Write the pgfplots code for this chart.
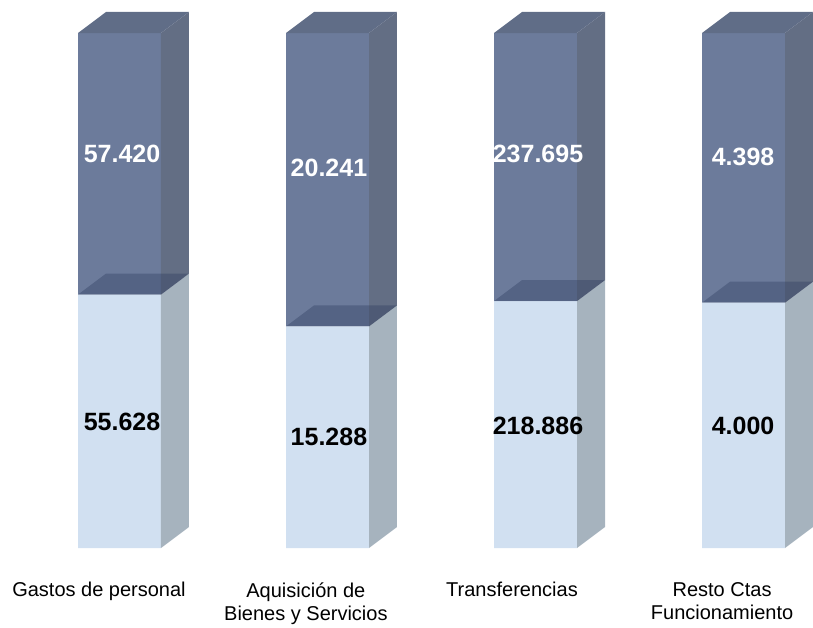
\documentclass[border=0pt]{standalone}
\usepackage{fontspec}
\setmainfont{Liberation Sans}
\usepackage{pgfplots}
\pgfplotsset{compat=1.18}
\usepackage{pgfplotstable}

\definecolor{topfront}{RGB}{108,123,155}
\definecolor{topside}{RGB}{99,110,132}
\definecolor{toptop}{RGB}{96,109,135}
\definecolor{botfront}{RGB}{209,224,241}
\definecolor{botside}{RGB}{166,179,190}
\definecolor{boundary}{RGB}{40,55,90}

% shares (%) of each category: bottom and top segments
\pgfplotstableread{
x bot top
0 49.21 50.79
1 43.03 56.97
2 47.94 52.06
3 47.63 52.37
}\shares

\pgfplotsset{base/.style={scale only axis, width=406.5pt, height=313.5pt,
  xmin=-0.5745, xmax=3.3341, ymin=-15.34, ymax=106.41, hide axis, clip=false}}

\begin{document}
\begin{tikzpicture}
\begin{axis}[base, ybar stacked, bar width=0.399]
\addplot[fill=botfront, draw=none] table[x=x,y=bot]{\shares};
\addplot[fill=topfront, draw=none] table[x=x,y=top]{\shares};
\path (rel axis cs:0,0) rectangle (rel axis cs:1,1);
\end{axis}
\begin{axis}[base]
% bar 0
\addplot[fill=botside, draw=none] coordinates {(0.1995,0) (0.3341,4.078) (0.3341,53.29) (0.1995,49.21)};
\addplot[fill=topside, draw=none] coordinates {(0.1995,49.21) (0.3341,53.29) (0.3341,104.08) (0.1995,100)};
\addplot[fill=toptop, draw=none] coordinates {(-0.1995,100) (0.1995,100) (0.3341,104.08) (-0.0649,104.08)};
\addplot[fill=boundary, fill opacity=0.35, draw=none] coordinates {(-0.1995,49.21) (0.1995,49.21) (0.3341,53.29) (-0.0649,53.29)};
% bar 1
\addplot[fill=botside, draw=none] coordinates {(1.1995,0) (1.3341,4.078) (1.3341,47.11) (1.1995,43.03)};
\addplot[fill=topside, draw=none] coordinates {(1.1995,43.03) (1.3341,47.11) (1.3341,104.08) (1.1995,100)};
\addplot[fill=toptop, draw=none] coordinates {(0.8005,100) (1.1995,100) (1.3341,104.08) (0.9351,104.08)};
\addplot[fill=boundary, fill opacity=0.35, draw=none] coordinates {(0.8005,43.03) (1.1995,43.03) (1.3341,47.11) (0.9351,47.11)};
% bar 2
\addplot[fill=botside, draw=none] coordinates {(2.1995,0) (2.3341,4.078) (2.3341,52.02) (2.1995,47.94)};
\addplot[fill=topside, draw=none] coordinates {(2.1995,47.94) (2.3341,52.02) (2.3341,104.08) (2.1995,100)};
\addplot[fill=toptop, draw=none] coordinates {(1.8005,100) (2.1995,100) (2.3341,104.08) (1.9351,104.08)};
\addplot[fill=boundary, fill opacity=0.35, draw=none] coordinates {(1.8005,47.94) (2.1995,47.94) (2.3341,52.02) (1.9351,52.02)};
% bar 3
\addplot[fill=botside, draw=none] coordinates {(3.1995,0) (3.3341,4.078) (3.3341,51.71) (3.1995,47.63)};
\addplot[fill=topside, draw=none] coordinates {(3.1995,47.63) (3.3341,51.71) (3.3341,104.08) (3.1995,100)};
\addplot[fill=toptop, draw=none] coordinates {(2.8005,100) (3.1995,100) (3.3341,104.08) (2.9351,104.08)};
\addplot[fill=boundary, fill opacity=0.35, draw=none] coordinates {(2.8005,47.63) (3.1995,47.63) (3.3341,51.71) (2.9351,51.71)};

% value labels
\tikzset{val/.style={font=\bfseries\fontsize{12.5}{14}\selectfont, inner sep=0pt}}
\node[val, text=white] at (axis cs:0.012,76.5) {57.420};
\node[val, text=white] at (axis cs:1.007,73.9) {20.241};
\node[val, text=white] at (axis cs:2.012,76.5) {237.695};
\node[val, text=white] at (axis cs:2.998,75.9) {4.398};
\node[val] at (axis cs:0.012,24.47) {55.628};
\node[val] at (axis cs:1.007,21.55) {15.288};
\node[val] at (axis cs:2.012,23.79) {218.886};
\node[val] at (axis cs:2.998,23.79) {4.000};

% category labels
\tikzset{cat/.style={font=\fontsize{10}{11.5}\selectfont, align=center, anchor=north, inner sep=0pt}}
\node[cat] at (axis cs:-0.0986,-6.6) {Gastos de personal};
\node[cat] at (axis cs:0.896,-6.6) {Aquisición de\\Bienes y Servicios};
\node[cat] at (axis cs:1.887,-6.6) {Transferencias};
\node[cat] at (axis cs:2.897,-6.6) {Resto Ctas\\Funcionamiento};
\end{axis}
\end{tikzpicture}
\end{document}
